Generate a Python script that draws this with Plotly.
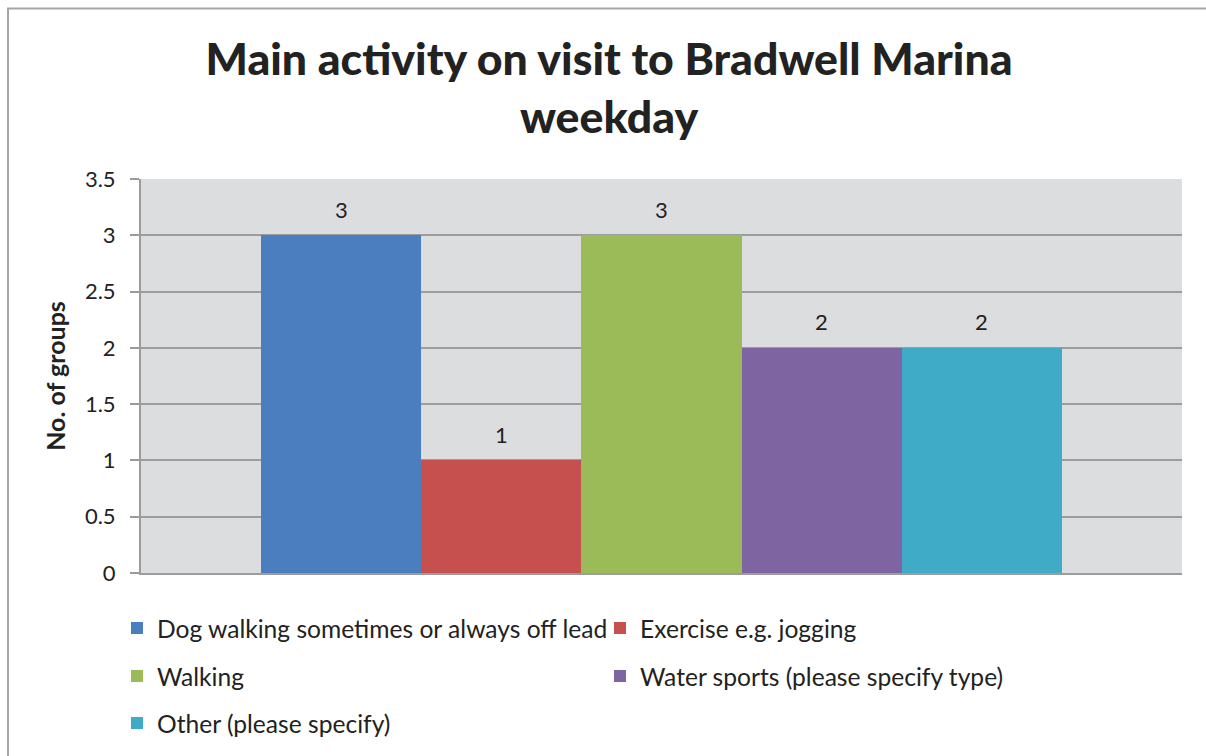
import plotly.graph_objects as go

# Survey results: main activity on a weekday visit
activities = [
    "Dog walking sometimes or always off lead",
    "Exercise e.g. jogging",
    "Walking",
    "Water sports (please specify type)",
    "Other (please specify)",
]
groups = [3, 1, 3, 2, 2]
colors = ["#4A7EBF", "#C6504D", "#9BBB59", "#7F64A2", "#3FABC7"]
y_ticks = [0, 0.5, 1, 1.5, 2, 2.5, 3, 3.5]
y_tick_labels = ["0", "0.5", "1", "1.5", "2", "2.5", "3", "3.5"]

FONT = "Lato"
TEXT = "#222222"
W, H = 1206, 756
L, R, T, B = 141, 24, 179, 182
PW, PH = W - L - R, H - T - B

def px_x(px):
    return (px - L) / PW

def px_y(px):
    return (H - B - px) / PH

# legend rows: two entries in the first two rows, one in the last
legend_rows = ["legend", "legend", "legend2", "legend2", "legend3"]

fig = go.Figure()
for name, val, col, lg in zip(activities, groups, colors, legend_rows):
    fig.add_trace(go.Bar(
        x=[name], y=[val], name=name, marker_color=col,
        marker_line_width=0, legend=lg,
    ))

for name, val in zip(activities, groups):
    fig.add_annotation(
        x=name, y=val, text=str(val), showarrow=False,
        yanchor="middle", yshift=26,
        font=dict(family=FONT, size=22, color=TEXT),
    )

legend_common = dict(
    orientation="h", xanchor="left", yanchor="middle",
    font=dict(family=FONT, size=24.6, color=TEXT),
    entrywidth=438, entrywidthmode="pixels",
    bgcolor="rgba(0,0,0,0)", itemclick=False,
)
fig.update_layout(
    width=W, height=H,
    margin=dict(l=L, r=R, t=T, b=B),
    paper_bgcolor="white",
    plot_bgcolor="#DCDDDF",
    barmode="group", bargap=0, bargroupgap=0,
    title=dict(
        text="Main activity on visit to Bradwell Marina<br>weekday",
        x=0.505, xanchor="center", y=1 - 75 / H, yanchor="middle",
        font=dict(family=FONT, size=44.6, color=TEXT, weight=900),
    ),
    showlegend=True,
    legend=dict(x=px_x(117), y=px_y(628), **legend_common),
    legend2=dict(x=px_x(117), y=px_y(676), **legend_common),
    legend3=dict(x=px_x(117), y=px_y(723), **legend_common),
    xaxis=dict(
        categoryorder="array", categoryarray=activities,
        range=[-1.25, 5.25], showticklabels=False, ticks="",
        showgrid=False, zeroline=False,
        showline=True, linecolor="#9C9C9C", linewidth=2,
    ),
    yaxis=dict(
        range=[0, 3.5], tickvals=y_ticks, ticktext=y_tick_labels,
        showgrid=True, gridcolor="#9C9C9C", gridwidth=2,
        zeroline=False, showline=True, linecolor="#9C9C9C", linewidth=2,
        ticks="outside", ticklen=9, tickcolor="#9C9C9C", tickwidth=2,
        ticklabelstandoff=10,
        tickfont=dict(family=FONT, size=22, color=TEXT),
        title=dict(text="<b>No. of groups</b>", standoff=12,
                   font=dict(family=FONT, size=25, color=TEXT)),
    ),
    shapes=[dict(
        type="rect", xref="paper", yref="paper",
        x0=px_x(8), x1=px_x(1230), y0=px_y(780), y1=px_y(8),
        line=dict(color="#A6A6A6", width=2), fillcolor="rgba(0,0,0,0)",
        layer="below",
    )],
)

fig.write_html("out.html")
